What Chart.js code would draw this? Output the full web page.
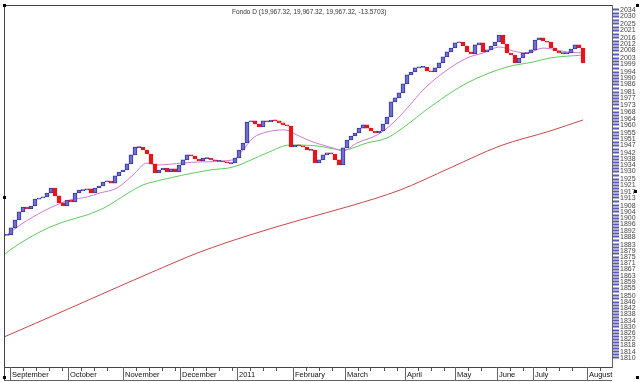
<!DOCTYPE html>
<html>
<head>
<meta charset="utf-8">
<script src="https://cdn.jsdelivr.net/npm/chart.js@4.4.1/dist/chart.umd.min.js"></script>
<style>
  html, body { margin: 0; padding: 0; background: #fff; }
</style>
</head>
<body>
<canvas id="chart" width="640" height="382"></canvas>
<script>
// daily closes of Fondo D, one per bar
const closes = [
  1889.2, 1893.7, 1898.8, 1904.0, 1907.2, 1905.9, 1907.8, 1912.3, 1913.0, 1913.6,
  1916.2, 1919.4, 1914.3, 1909.8, 1907.8, 1911.7, 1910.4, 1916.2, 1918.1, 1918.1,
  1918.8, 1916.2, 1919.4, 1920.7, 1923.3, 1923.9, 1922.6, 1927.2, 1929.7, 1931.0,
  1934.9, 1940.7, 1945.8, 1945.8, 1943.9, 1941.3, 1934.9, 1929.1, 1931.0, 1932.3,
  1929.7, 1931.7, 1929.7, 1934.2, 1937.5, 1940.7, 1940.0, 1938.1, 1936.8, 1938.7,
  1938.7, 1937.5, 1936.8, 1936.8, 1936.2, 1935.5, 1935.5, 1938.7, 1943.9, 1948.4,
  1961.9, 1962.6, 1960.6, 1958.7, 1962.6, 1961.9, 1963.2, 1962.6, 1961.3, 1960.0,
  1959.3, 1945.8, 1947.1, 1946.5, 1945.8, 1943.9, 1943.9, 1935.5, 1937.5, 1940.7,
  1942.0, 1941.3, 1937.5, 1934.2, 1945.2, 1950.3, 1952.9, 1954.8, 1958.0, 1960.0,
  1958.0, 1956.1, 1954.8, 1956.1, 1960.6, 1965.1, 1974.8, 1977.4, 1980.6, 1986.4,
  1992.2, 1994.1, 1996.7, 1997.3, 1997.3, 1994.7, 1994.1, 1996.7, 1999.9, 2003.8,
  2007.0, 2009.5, 2012.8, 2013.4, 2010.8, 2007.0, 2005.7, 2011.5, 2012.8, 2007.0,
  2008.3, 2010.8, 2013.4, 2017.9, 2012.1, 2006.3, 2005.0, 1999.9, 2003.1, 2006.3,
  2006.3, 2008.3, 2014.7, 2016.0, 2014.0, 2013.4, 2009.5, 2007.6, 2006.3, 2006.3,
  2006.3, 2008.9, 2011.5, 2009.5, 1999.9
];

// moving averages, read at a few bar positions
const maShortIdx = [0, 3.25, 6.5, 10.75, 15.75, 20, 23.25, 27.5, 31.5, 35, 37.5, 44, 48.25, 56.5, 59, 61.5, 65, 69.5, 72.5, 76.5, 81.5, 84, 87.5, 92.5, 96.5, 100.75, 104, 109, 115, 119, 123.25, 126.5, 130, 134, 140, 144];
const maShortVals = [1889.2, 1895.6, 1900.8, 1906.6, 1911.7, 1913.6, 1916.2, 1919.4, 1927.8, 1935.5, 1934.2, 1935.5, 1936.2, 1937.5, 1943.9, 1951.6, 1955.5, 1956.8, 1953.5, 1949.0, 1945.2, 1943.2, 1948.4, 1953.5, 1961.3, 1972.9, 1982.5, 1993.5, 2003.1, 2006.3, 2010.2, 2007.6, 2006.3, 2009.5, 2007.0, 2006.3];

const maMidIdx = [-0.75, 0.75, 10.75, 23.25, 34, 36.5, 50.75, 56.5, 65, 70.75, 77.5, 84, 90, 95, 98.25, 106.5, 115, 125, 131.5, 135.75, 144];
const maMidVals = [1876.3, 1879.5, 1894.3, 1905.3, 1921.4, 1923.3, 1931.0, 1932.9, 1942.0, 1947.1, 1946.5, 1943.9, 1948.4, 1951.6, 1956.8, 1972.9, 1987.0, 1997.3, 2000.5, 2003.1, 2005.0];

const maLongIdx = [-0.75, 10.75, 23.25, 35.75, 48.25, 60.75, 73.25, 85.75, 98.25, 110.75, 123.25, 135.75, 144];
const maLongVals = [1823.5, 1836.4, 1850.6, 1864.7, 1878.2, 1889.2, 1898.8, 1907.8, 1918.1, 1932.3, 1946.5, 1956.1, 1963.2];

const monthTicks = [0.75, 15.25, 29, 43.25, 57.5, 71.5, 84.5, 99.5, 112, 122.5, 131.5, 145];
const monthLabels = ['September', 'October', 'November', 'December', '2011', 'February', 'March', 'April', 'May', 'June', 'July', 'August'];

const yLabels = [2034, 2030, 2025, 2021, 2016, 2012, 2008, 2003, 1999, 1994, 1990, 1986, 1981, 1977,
  1973, 1968, 1964, 1960, 1955, 1951, 1947, 1942, 1938, 1934, 1930, 1925, 1921, 1917, 1913, 1908,
  1904, 1900, 1896, 1892, 1888, 1883, 1879, 1875, 1871, 1867, 1863, 1859, 1855, 1850, 1846, 1842,
  1838, 1834, 1830, 1826, 1822, 1818, 1814, 1810];

const headerText = 'Fondo D (19,967.32, 19,967.32, 19,967.32, -13.5703)';

const upFill = '#7070d4', upLine = '#34349a', downFill = '#e8141c';

const bars = closes.map((c, i) => {
  const prev = i === 0 ? c : closes[i - 1];
  let lo = Math.min(prev, c), hi = Math.max(prev, c);
  if (hi - lo < 0.7) { const m = (hi + lo) / 2; lo = m - 0.35; hi = m + 0.35; }
  return { x: i, y: [lo, hi] };
});
const isDown = closes.map((c, i) => i > 0 && c < closes[i - 1]);

const pts = (idx, vals) => idx.map((x, i) => ({ x: x, y: vals[i] }));

// x weekly minor ticks + month ticks
function buildXTicks() {
  const out = [];
  monthTicks.forEach((m, k) => {
    out.push({ value: m });
    const next = k + 1 < monthTicks.length ? monthTicks[k + 1] : 151;
    for (let t = m + 3.25; t < next - 1; t += 3.25) out.push({ value: t });
  });
  return out;
}
function buildYTicks() {
  const out = [];
  yLabels.forEach((v, k) => {
    out.push({ value: v });
    if (k + 1 < yLabels.length) out.push({ value: (v + yLabels[k + 1]) / 2 });
  });
  return out;
}

const framePlugin = {
  id: 'frame',
  afterDraw(chart) {
    const ctx = chart.ctx, a = chart.chartArea, xs = chart.scales.x;
    ctx.save();
    ctx.strokeStyle = '#444';
    ctx.lineWidth = 1;
    ctx.beginPath();
    ctx.moveTo(a.left + 0.5, a.top); ctx.lineTo(a.left + 0.5, 381);
    ctx.moveTo(a.left, a.top + 0.5); ctx.lineTo(a.right, a.top + 0.5);
    ctx.stroke();
    ctx.strokeStyle = '#666';
    ctx.beginPath();
    monthTicks.forEach(m => {
      const px = Math.round(xs.getPixelForValue(m)) + 0.5;
      ctx.moveTo(px, a.bottom); ctx.lineTo(px, 381);
    });
    ctx.moveTo(a.left, 380.5); ctx.lineTo(a.right, 380.5);
    ctx.stroke();

    ctx.fillStyle = '#333';
    ctx.font = '6.5px "Liberation Sans"';
    ctx.textBaseline = 'alphabetic';
    ctx.fillText(headerText, 232, 14);

    ctx.fillStyle = '#000';
    [[3, 4], [636, 4], [3, 196], [634, 190], [3, 376], [636, 376]].forEach(p => ctx.fillRect(p[0], p[1], 3, 3));
    ctx.restore();
  }
};

new Chart(document.getElementById('chart'), {
  type: 'bar',
  data: {
    datasets: [
      {
        type: 'line', data: pts(maLongIdx, maLongVals), borderColor: '#c84848', borderWidth: 1,
        pointRadius: 0, cubicInterpolationMode: 'monotone', order: 3
      },
      {
        type: 'line', data: pts(maMidIdx, maMidVals), borderColor: '#5ccc5c', borderWidth: 1,
        pointRadius: 0, cubicInterpolationMode: 'monotone', order: 2
      },
      {
        type: 'line', data: pts(maShortIdx, maShortVals), borderColor: '#d27ad2', borderWidth: 1,
        pointRadius: 0, cubicInterpolationMode: 'monotone', order: 1
      },
      {
        data: bars,
        backgroundColor: isDown.map(d => d ? downFill : upFill),
        borderColor: isDown.map(d => d ? downFill : upLine),
        borderWidth: 1, borderSkipped: false,
        barPercentage: 1, categoryPercentage: 1, order: 0
      }
    ]
  },
  options: {
    responsive: false,
    animation: false,
    devicePixelRatio: 1,
    layout: { padding: { left: 4, top: 5, right: 0, bottom: 0 } },
    plugins: { legend: { display: false }, tooltip: { enabled: false } },
    scales: {
      x: {
        type: 'linear', position: 'bottom', min: -0.75, max: 151.25, offset: false,
        afterBuildTicks: s => { s.ticks = buildXTicks(); },
        afterFit: s => { s.height = 15; },
        grid: { drawOnChartArea: false, tickLength: 4, color: '#555', offset: false },
        border: { color: '#444' },
        ticks: {
          autoSkip: false, maxRotation: 0, align: 'start', labelOffset: 2, padding: 0,
          color: '#111', font: { family: 'Liberation Sans', size: 7.5, lineHeight: 1 },
          callback: v => { const k = monthTicks.indexOf(v); return k >= 0 ? monthLabels[k] : ''; }
        }
      },
      y: {
        type: 'linear', position: 'right', min: 1804.2, max: 2037.2,
        afterBuildTicks: s => { s.ticks = buildYTicks(); },
        afterFit: s => { s.width = 28; },
        grid: { drawOnChartArea: false, tickLength: 7, tickColor: '#5a5ab4', tickWidth: 2 },
        border: { color: '#666' },
        ticks: {
          autoSkip: false, padding: 1, color: '#444',
          font: { family: 'Liberation Sans', size: 7, lineHeight: 1 },
          callback: v => yLabels.includes(v) ? String(v) : ''
        }
      }
    }
  },
  plugins: [framePlugin]
});
</script>
</body>
</html>
